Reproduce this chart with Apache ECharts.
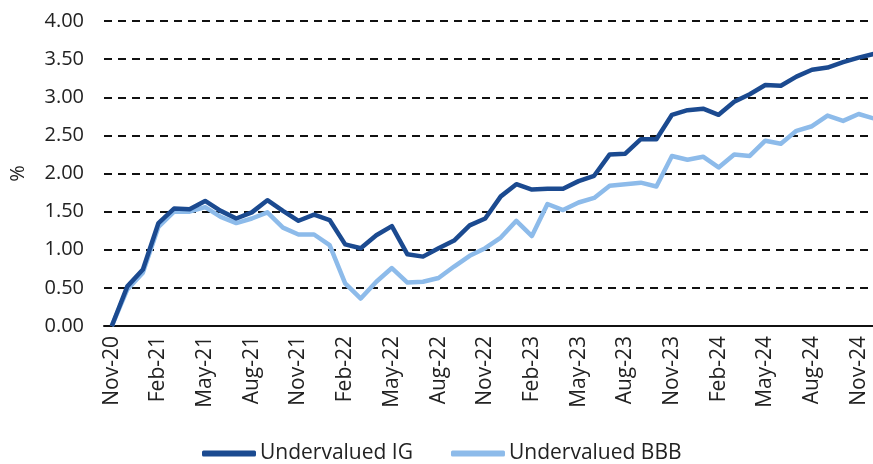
<!DOCTYPE html>
<html>
<head>
<meta charset="utf-8">
<script src="https://cdn.jsdelivr.net/npm/echarts@6/dist/echarts.min.js"></script>
<style>
  html, body { margin: 0; padding: 0; background: #fff; }
  #chart { width: 873px; height: 464px; }
</style>
</head>
<body>
<div id="chart"></div>
<script>
// 月份 Nov-20 .. Dec-24
var months = [];
var mNames = ['Jan','Feb','Mar','Apr','May','Jun','Jul','Aug','Sep','Oct','Nov','Dec'];
var startIdx = 10, startYear = 20;
for (var k = 0; k < 50; k++) {
    var m = (startIdx + k) % 12;
    var y = startYear + Math.floor((startIdx + k) / 12);
    months.push(mNames[m] + '-' + y);
}

var undervaluedIG = [
    0.00, 0.52, 0.74, 1.35, 1.54, 1.53, 1.64, 1.51, 1.41, 1.49,
    1.65, 1.51, 1.38, 1.46, 1.39, 1.07, 1.02, 1.19, 1.31, 0.94,
    0.91, 1.02, 1.12, 1.32, 1.41, 1.70, 1.86, 1.79, 1.80, 1.80,
    1.90, 1.97, 2.25, 2.26, 2.45, 2.45, 2.77, 2.83, 2.85, 2.77,
    2.94, 3.04, 3.16, 3.15, 3.27, 3.36, 3.39, 3.46, 3.52, 3.57
];

var undervaluedBBB = [
    0.00, 0.48, 0.70, 1.30, 1.50, 1.50, 1.56, 1.43, 1.35, 1.41,
    1.49, 1.29, 1.20, 1.20, 1.06, 0.56, 0.36, 0.58, 0.76, 0.57,
    0.58, 0.63, 0.78, 0.92, 1.02, 1.16, 1.38, 1.18, 1.60, 1.52,
    1.62, 1.68, 1.84, 1.86, 1.88, 1.83, 2.23, 2.18, 2.22, 2.08,
    2.25, 2.23, 2.43, 2.39, 2.56, 2.62, 2.76, 2.69, 2.78, 2.72
];

var seriesNames = ['Undervalued IG', 'Undervalued BBB'];
var colors = ['#1b4a90', '#8dbbea'];
var font = '"Open Sans", "Noto Sans", sans-serif';

var myChart = echarts.init(document.getElementById('chart'), null, {renderer: 'canvas'});

option = {
    animation: false,
    color: colors,
    grid: {
        left: 104,
        top: 21,
        width: 778,
        bottom: 138,
        containLabel: false,
        outerBoundsMode: 'none'
    },
    legend: {
        bottom: -5,
        left: 197,
        icon: 'roundRect',
        itemWidth: 54,
        itemHeight: 6,
        itemGap: 38,
        textStyle: { fontFamily: font, fontSize: 21, color: '#222', padding: [0, 0, 0, -1] },
        data: seriesNames
    },
    xAxis: {
        type: 'category',
        boundaryGap: true,
        data: months,
        axisLine: { lineStyle: { color: '#111', width: 2 } },
        axisTick: { interval: 2, length: 7, lineStyle: { color: '#111', width: 2 } },
        axisLabel: {
            interval: 2,
            rotate: 90,
            margin: 10,
            fontFamily: font,
            fontSize: 21,
            color: '#222'
        }
    },
    yAxis: {
        type: 'value',
        min: 0,
        max: 4,
        interval: 0.5,
        name: '%',
        nameLocation: 'middle',
        nameRotate: 90,
        nameGap: 76,
        nameTextStyle: { fontFamily: font, fontSize: 20, color: '#222' },
        axisLine: { show: false },
        axisTick: { show: false },
        axisLabel: {
            margin: 20,
            fontFamily: font,
            fontSize: 20,
            color: '#222',
            formatter: function (v) { return v.toFixed(2); }
        },
        splitLine: {
            lineStyle: { color: '#111', width: 2, type: [8, 6] }
        }
    },
    series: [
        {
            name: seriesNames[0],
            type: 'line',
            data: undervaluedIG,
            symbol: 'none',
            z: 3,
            lineStyle: { width: 4.5, color: colors[0], join: 'round' }
        },
        {
            name: seriesNames[1],
            type: 'line',
            data: undervaluedBBB,
            symbol: 'none',
            z: 2,
            lineStyle: { width: 4.5, color: colors[1], join: 'round' }
        }
    ]
};

myChart.setOption(option);
</script>
</body>
</html>
